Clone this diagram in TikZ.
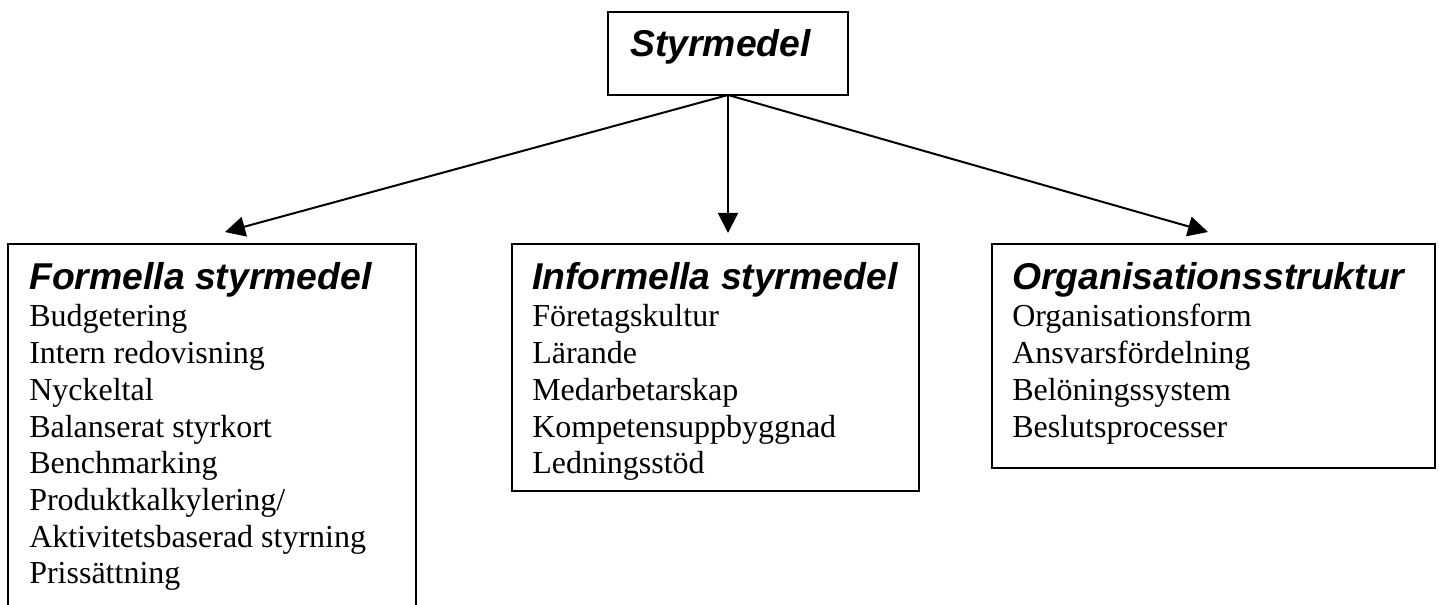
\documentclass[tikz,border=0pt]{standalone}
\usepackage{fontspec}
\setmainfont{Liberation Serif}
\newfontfamily\headfont{Liberation Sans}
\usetikzlibrary{arrows.meta}
\begin{document}
\begin{tikzpicture}[x=0.75pt,y=-0.75pt,
  box/.style={draw,line width=1.5pt,inner sep=0pt,outer sep=0pt,rectangle},
  head/.style={inner sep=0pt,anchor=base west,font=\headfont\bfseries\itshape\fontsize{28}{30}\selectfont},
  body/.style={inner sep=0pt,anchor=base west,font=\fontsize{24}{27}\selectfont},
  conn/.style={line width=1.5pt,-{Triangle[length=15pt,width=15pt]}}]
\useasboundingbox (0,0) rectangle (1439,605);

% boxes
\node[box,minimum width=180pt,minimum height=62.25pt] (top) at (728,53.5) {};
\node[box,minimum width=306pt,minimum height=304.5pt] (left) at (212,447) {};
\node[box,minimum width=305.25pt,minimum height=185.25pt] (mid) at (715.5,367.5) {};
\node[box,minimum width=332.25pt,minimum height=168pt] (right) at (1213.5,356) {};

% title
\node[head] (ttop) at (630,57) {Styrmedel};

% left box
\node[head] (hl) at (29,290) {Formella styrmedel};
\foreach \t [count=\i from 0] in {Budgetering,Intern redovisning,Nyckeltal,Balanserat styrkort,Benchmarking,Produktkalkylering/,Aktivitetsbaserad styrning,Prissättning}
  \node[body] (l\i) at (29,327+36.7*\i) {\t};

% middle box
\node[head] (hm) at (532,290) {Informella styrmedel};
\foreach \t [count=\i from 0] in {Företagskultur,Lärande,Medarbetarskap,Kompetensuppbyggnad,Ledningsstöd}
  \node[body] (m\i) at (532,327+36.7*\i) {\t};

% right box
\node[head] (hr) at (1012,290) {Organisationsstruktur};
\foreach \t [count=\i from 0] in {Organisationsform,Ansvarsfördelning,Belöningssystem,Beslutsprocesser}
  \node[body] (r\i) at (1012,327+36.7*\i) {\t};

% arrows
\coordinate (tl) at (225,232);
\coordinate (tm) at (728,233);
\coordinate (tr) at (1208,232);
\draw[conn] (top.south) -- (tl);
\draw[conn] (top.south) -- (tm);
\draw[conn] (top.south) -- (tr);
\end{tikzpicture}
\end{document}
